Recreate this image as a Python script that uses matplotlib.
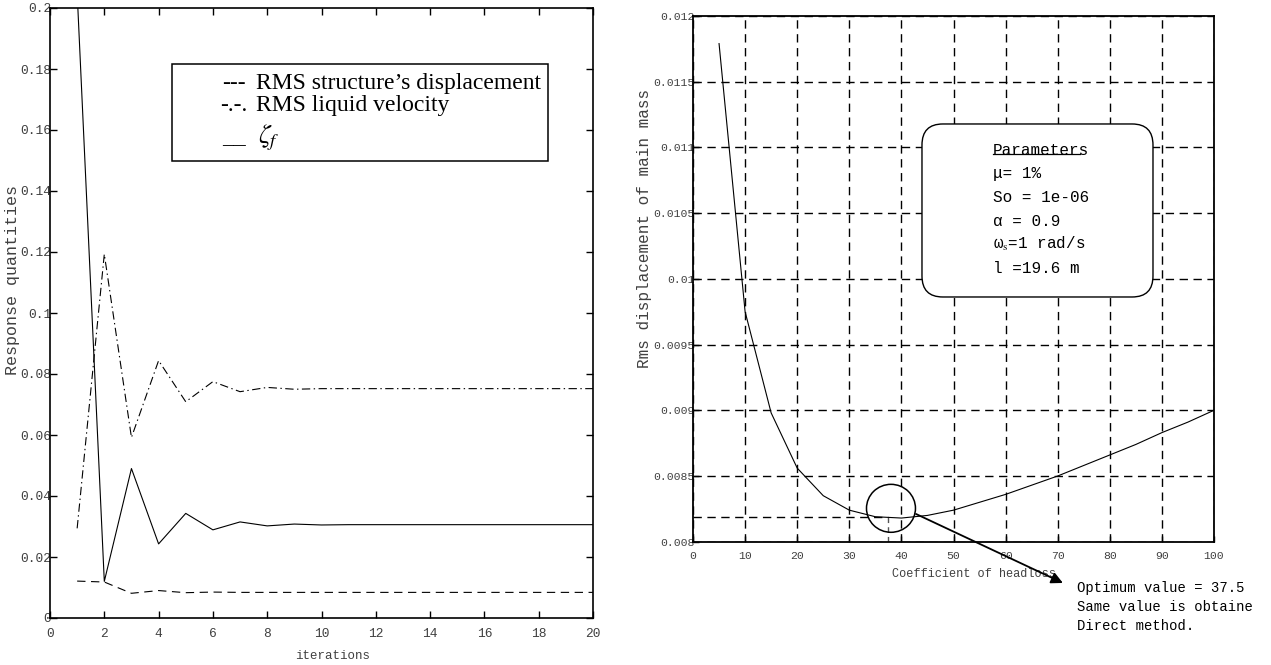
import numpy as np
import matplotlib
matplotlib.use('Agg')
import matplotlib.pyplot as plt
from matplotlib.patches import Rectangle, FancyBboxPatch, Ellipse
from matplotlib.lines import Line2D

plt.rcParams['font.family'] = ['Liberation Mono', 'DejaVu Sans']
plt.rcParams['mathtext.fontset'] = 'stix'
plt.rcParams['lines.scale_dashes'] = False

# --- convergence of the iterative scheme ---
iterations = np.arange(1, 21)
zeta_f = [0.205, 0.012, 0.049, 0.0243, 0.0343, 0.0289, 0.0315, 0.0302, 0.0308, 0.0305,
          0.0306, 0.0306, 0.0306, 0.0306, 0.0306, 0.0306, 0.0306, 0.0306, 0.0306, 0.0306]
rms_liquid_vel = [0.0294, 0.1193, 0.0592, 0.0844, 0.0709, 0.0775, 0.0742, 0.0756, 0.0750, 0.0752,
                  0.0752, 0.0752, 0.0752, 0.0752, 0.0752, 0.0752, 0.0752, 0.0752, 0.0752, 0.0752]
rms_struct_disp = [0.0121, 0.0118, 0.0081, 0.0090, 0.0083, 0.0085, 0.0084, 0.0084, 0.0084, 0.0084,
                   0.0084, 0.0084, 0.0084, 0.0084, 0.0084, 0.0084, 0.0084, 0.0084, 0.0084, 0.0084]
left_yticks = [0, 0.02, 0.04, 0.06, 0.08, 0.1, 0.12, 0.14, 0.16, 0.18, 0.2]
left_ylabels = ['0', '0.02', '0.04', '0.06', '0.08', '0.1', '0.12', '0.14', '0.16', '0.18', '0.2']

# --- rms displacement vs headloss coefficient ---
headloss = np.arange(5, 101, 5)
rms_disp = [0.01179, 0.00975, 0.00898, 0.00856, 0.00835, 0.00824, 0.00819, 0.00818, 0.00820, 0.00824,
            0.00830, 0.00836, 0.00843, 0.00850, 0.00858, 0.00866, 0.00874, 0.00883, 0.00891, 0.00900]
right_yticks = [0.008, 0.0085, 0.009, 0.0095, 0.01, 0.0105, 0.011, 0.0115, 0.012]
right_ylabels = ['0.008', '0.0085', '0.009', '0.0095', '0.01', '0.0105', '0.011', '0.0115', '0.012']
opt_headloss = 37.5
min_disp = 0.00819

W, H = 1271, 665
fig = plt.figure(figsize=(W / 100, H / 100), dpi=100, facecolor='white')

tick_col = '#404040'
dash = (0, (6, 4))
dashdot = (0, (6, 2.5, 1, 2.5))

# ================= left panel =================
ax1 = fig.add_axes([50 / W, 1 - 618 / H, 543 / W, 610 / H])
ax1.plot(iterations, rms_struct_disp, color='k', lw=0.8, linestyle=dash)
ax1.plot(iterations, rms_liquid_vel, color='k', lw=0.8, linestyle=dashdot)
ax1.plot(iterations, zeta_f, color='k', lw=0.8)
ax1.set_xlim(0, 20)
ax1.set_ylim(0, 0.2)
ax1.set_xticks(range(0, 21, 2))
ax1.set_yticks(left_yticks)
ax1.set_yticklabels(left_ylabels)
ax1.tick_params(direction='in', top=True, right=True, length=5, width=1,
                labelsize=9.3, labelcolor=tick_col)
ax1.tick_params(axis='y', pad=-1)
ax1.tick_params(axis='x', pad=7)
for s in ax1.spines.values():
    s.set_linewidth(1.2)
ax1.set_xlabel('iterations', fontsize=9, color=tick_col)
ax1.xaxis.set_label_coords(0.521, -0.053)
ax1.set_ylabel('Response quantities', fontsize=12, color=tick_col)
ax1.yaxis.set_label_coords(-0.055, 0.554)

# legend box drawn with text markers
ax1.add_patch(Rectangle((0.2247, 0.749), 0.6924, 0.159, transform=ax1.transAxes,
                        fill=False, ec='k', lw=1.1, zorder=5))
serif = ['Liberation Serif', 'DejaVu Serif']
ax1.text(0.3168, 0.8755, '---', transform=ax1.transAxes, family=serif, fontsize=17, va='center')
ax1.text(0.3794, 0.8755, 'RMS structure\u2019s displacement', transform=ax1.transAxes,
         family=serif, fontsize=17, va='center')
ax1.text(0.3130, 0.8395, '-.-.', transform=ax1.transAxes, family=serif, fontsize=17, va='center')
ax1.text(0.3794, 0.8395, 'RMS liquid velocity', transform=ax1.transAxes,
         family=serif, fontsize=17, va='center')
ax1.text(0.3168, 0.778, '__', transform=ax1.transAxes, family=serif, fontsize=17, va='baseline')
ax1.text(0.3830, 0.788, r'$\zeta_f$', transform=ax1.transAxes, fontsize=19, va='center')

# ================= right panel =================
ax2 = fig.add_axes([693 / W, 1 - 541.7 / H, 521 / W, 525.7 / H])
ax2.plot(headloss, rms_disp, color='k', lw=0.8, zorder=3)
ax2.set_xlim(0, 100)
ax2.set_ylim(0.008, 0.012)
ax2.set_xticks(range(0, 101, 10))
ax2.set_yticks(right_yticks)
ax2.set_yticklabels(right_ylabels)
ax2.grid(True, color='k', linestyle=dash, linewidth=1.0)
ax2.tick_params(direction='in', length=4, width=1, labelsize=8.2, labelcolor=tick_col)
ax2.tick_params(axis='y', pad=-1)
ax2.tick_params(axis='x', pad=7)
for s in ax2.spines.values():
    s.set_linewidth(1.3)
ax2.set_xlabel('Coefficient of headloss', fontsize=8.6, color=tick_col)
ax2.xaxis.set_label_coords(0.54, -0.05)
ax2.set_ylabel('Rms displacement of main mass', fontsize=11.5, color=tick_col)
ax2.yaxis.set_label_coords(-0.079, 0.595)

# optimum marker: guide lines, circle and arrow
ax2.plot([0, opt_headloss], [min_disp, min_disp], color='k', lw=1.0, linestyle=dash, zorder=2)
ax2.plot([opt_headloss, opt_headloss], [0.008, min_disp], color='#555555', lw=1.0,
         linestyle=(0, (4, 3)), zorder=2)
ax2.add_patch(Ellipse((38.0, 0.008254), 9.4, 0.000365, fill=False, ec='k', lw=1.1, zorder=4))
ax2.annotate('', xy=(71.0, 0.007686), xytext=(42.8, 0.008211),
             arrowprops=dict(arrowstyle='-|>', mutation_scale=17, lw=1.3, color='k',
                             shrinkA=0, shrinkB=0),
             annotation_clip=False, zorder=5)
fig.text(1077 / W, 1 - 581 / H,
         'Optimum value = 37.5\nSame value is obtaine\nDirect method.',
         fontsize=10, va='top', ha='left', linespacing=1.45)

# parameters box
ax2.add_patch(FancyBboxPatch((0.4395, 0.4655), 0.4434, 0.3291, transform=ax2.transAxes,
                             boxstyle='round,pad=0,rounding_size=0.04',
                             fc='white', ec='k', lw=1.0, zorder=5))
px = 0.5758
title = ax2.text(px, 0.745, 'Parameters', transform=ax2.transAxes, fontsize=11.5,
                 va='center', zorder=6)
params = ['\u03bc= 1%', 'So = 1e-06', '\u03b1 = 0.9', '\u03c9$_\\mathrm{s}$=1 rad/s', 'l =19.6 m']
ys = [0.701, 0.6555, 0.6097, 0.566, 0.520]
for txt, y in zip(params, ys):
    ax2.text(px, y, txt, transform=ax2.transAxes, fontsize=11.5, va='center', zorder=6)

# underline the first nine letters of the box heading
fig.canvas.draw()
bb = title.get_window_extent()
x_end = bb.x0 + bb.width * 0.9
y_ul = bb.y0 + 0.22 * bb.height
fig.add_artist(Line2D([bb.x0 / W, x_end / W], [y_ul / H, y_ul / H],
                      color='k', lw=0.9, zorder=7))

fig.savefig('out.png', dpi=100, facecolor='white')
